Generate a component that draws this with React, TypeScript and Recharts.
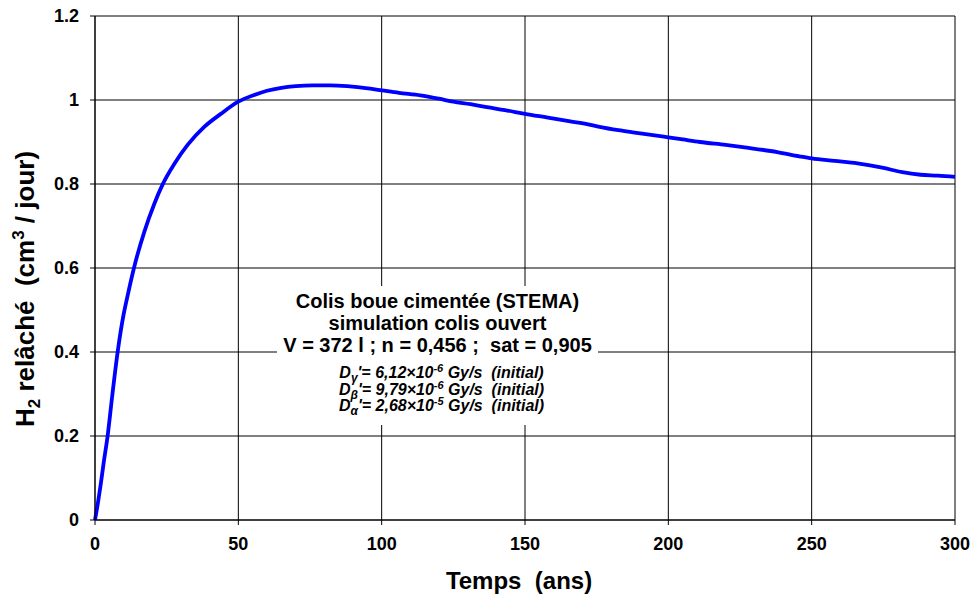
import React from "react";
import { LineChart, Line, XAxis, YAxis, CartesianGrid } from "recharts";

const times = [0, 1, 2, 3, 4.4, 6, 7.9, 10, 11.4, 13.7, 17.2, 20.7, 23.6, 27.7, 32.3, 38.1, 43.9, 50, 55.6, 60, 65, 70, 76, 82, 88, 96, 100, 106, 113.5, 120, 125, 131, 136.7, 143, 150, 158, 165.8, 172, 176, 182.6, 187.6, 194, 200, 205, 211, 220, 228, 238, 245.7, 250, 258, 266, 274.6, 281.6, 288, 294, 300];
const h2Released = [0, 0.04, 0.085, 0.135, 0.2, 0.295, 0.4, 0.49, 0.535, 0.603, 0.686, 0.753, 0.799, 0.848, 0.893, 0.936, 0.967, 0.996, 1.012, 1.022, 1.029, 1.033, 1.035, 1.035, 1.033, 1.027, 1.023, 1.017, 1.011, 1.003, 0.996, 0.99, 0.983, 0.976, 0.967, 0.958, 0.949, 0.942, 0.936, 0.928, 0.923, 0.917, 0.911, 0.906, 0.9, 0.893, 0.886, 0.876, 0.866, 0.861, 0.855, 0.849, 0.839, 0.828, 0.822, 0.82, 0.817];

const xTicks = [0, 50, 100, 150, 200, 250, 300];
const yTicks = [0, 0.2, 0.4, 0.6, 0.8, 1, 1.2];
const yTickLabels = ["0", "0.2", "0.4", "0.6", "0.8", "1", "1.2"];

const data = times.map((t, i) => ({ t, v: h2Released[i] }));

const FONT = "'Liberation Sans', Arial, sans-serif";

const XTitle = (props: any) => {
  const vb = props.viewBox || {};
  return (
    <text x={vb.x + vb.width / 2 - 6} y={vb.y + 69} textAnchor="middle" fontFamily={FONT} fontWeight="bold" fontSize={24} fill="#000" style={{ whiteSpace: "pre" }}>
      {"Temps  (ans)"}
    </text>
  );
};

const YTitle = () => (
  <text transform="translate(34,289) rotate(-90)" textAnchor="middle" fontFamily={FONT} fontWeight="bold" fontSize={26} fill="#000" style={{ whiteSpace: "pre" }}>
    <tspan>H</tspan>
    <tspan fontSize={17} dy={6}>2</tspan>
    <tspan dy={-6}>{" relâché  (cm"}</tspan>
    <tspan fontSize={17} dy={-10}>3</tspan>
    <tspan dy={10}>{" / jour)"}</tspan>
  </text>
);

const boldLine: React.CSSProperties = { fontWeight: "bold", fontSize: 20, lineHeight: "22px", whiteSpace: "pre" };
const italLine: React.CSSProperties = { fontWeight: "bold", fontStyle: "italic", fontSize: 16, lineHeight: "16.5px", whiteSpace: "pre" };
const subS: React.CSSProperties = { fontSize: 12, verticalAlign: "-4px", lineHeight: 0 };
const supS: React.CSSProperties = { fontSize: 11, verticalAlign: "6px", lineHeight: 0 };

export default function App() {
  return (
    <div style={{ position: "absolute", left: 0, top: 0, width: 973, height: 596, background: "#fff", fontFamily: FONT }}>
      <LineChart width={973} height={596} data={data} margin={{ top: 16, right: 18, bottom: 0, left: 0 }}>
        <CartesianGrid stroke="#000" strokeWidth={1} />
        <XAxis
          dataKey="t"
          type="number"
          domain={[0, 300]}
          ticks={xTicks}
          height={76}
          tickSize={5}
          tickMargin={12}
          axisLine={{ stroke: "#000" }}
          tickLine={{ stroke: "#000" }}
          tick={{ fontSize: 18, fontWeight: "bold", fill: "#000", fontFamily: FONT }}
          label={<XTitle />}
        />
        <YAxis
          type="number"
          domain={[0, 1.2]}
          ticks={yTicks}
          width={95}
          tickSize={5}
          tickMargin={11}
          tickFormatter={(v: number) => yTickLabels[yTicks.indexOf(v)] ?? String(v)}
          axisLine={{ stroke: "#000" }}
          tickLine={{ stroke: "#000" }}
          tick={{ fontSize: 18, fontWeight: "bold", fill: "#000", fontFamily: FONT }}
          label={<YTitle />}
        />
        <Line type="monotone" dataKey="v" stroke="#0000ff" strokeWidth={3.8} dot={false} isAnimationActive={false} />
      </LineChart>
      <div style={{ position: "absolute", left: 277, top: 286, width: 321, height: 139, background: "#fff", textAlign: "center", color: "#000" }}>
        <div style={{ ...boldLine, marginTop: 4 }}>Colis boue cimentée (STEMA)</div>
        <div style={boldLine}>simulation colis ouvert</div>
        <div style={boldLine}>{"V = 372 l ; n = 0,456 ;  sat = 0,905"}</div>
        <div style={{ ...italLine, marginTop: 9, paddingLeft: 8 }}>
          D<span style={subS}>γ</span>{"'= 6,12×10"}<span style={supS}>-6</span>{" Gy/s  (initial)"}
        </div>
        <div style={{ ...italLine, paddingLeft: 8 }}>
          D<span style={subS}>β</span>{"'= 9,79×10"}<span style={supS}>-6</span>{" Gy/s  (initial)"}
        </div>
        <div style={{ ...italLine, paddingLeft: 8 }}>
          D<span style={subS}>α</span>{"'= 2,68×10"}<span style={supS}>-5</span>{" Gy/s  (initial)"}
        </div>
      </div>
    </div>
  );
}
